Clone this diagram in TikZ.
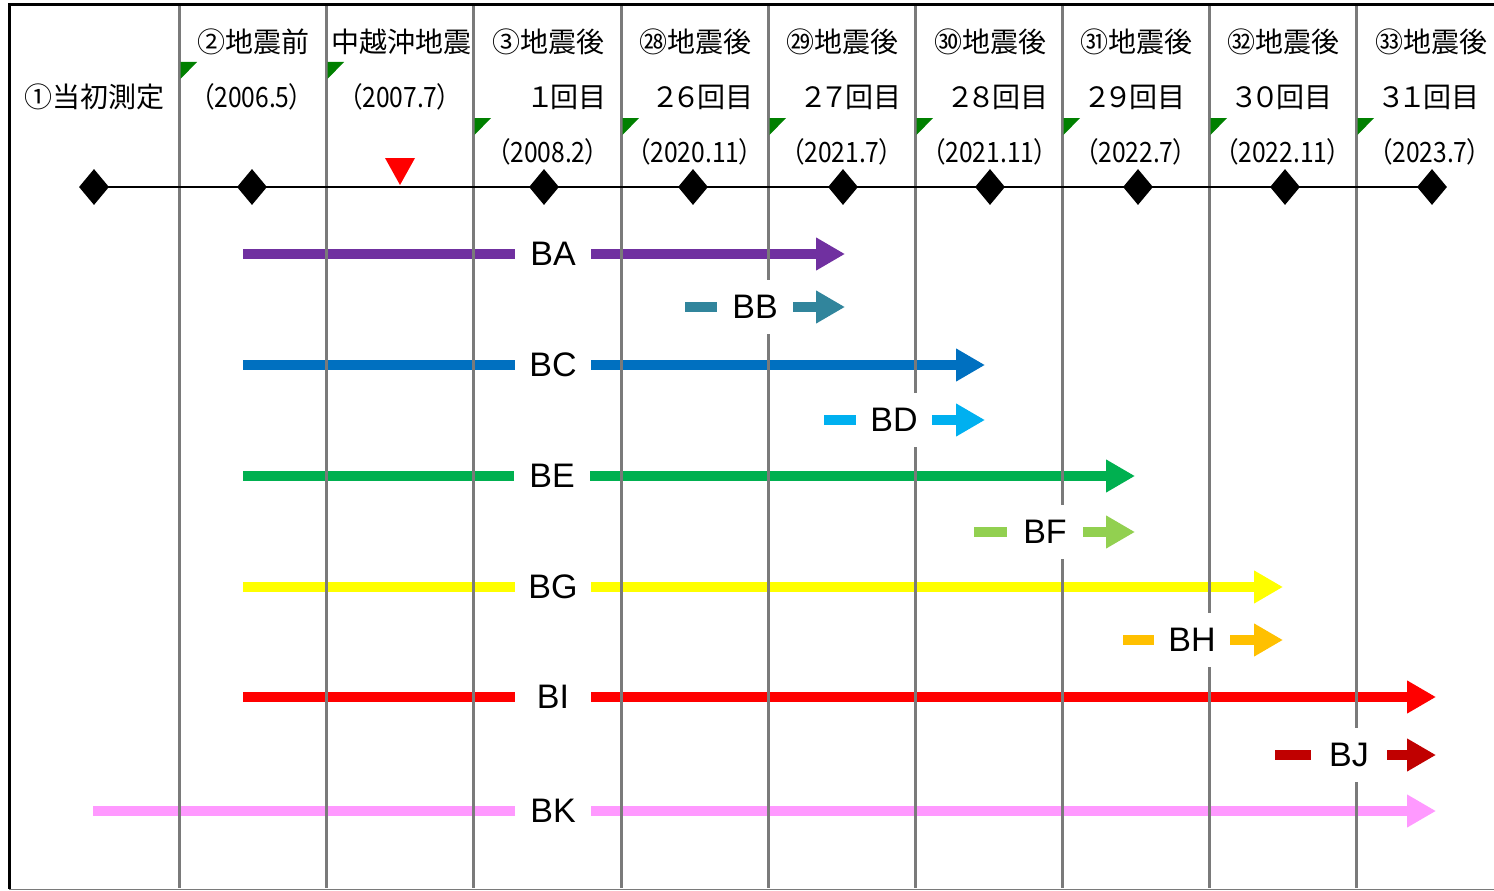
\documentclass[tikz,border=0pt]{standalone}
\usepackage{fontspec}
\setmainfont{Liberation Sans}
\newfontfamily\jp[RawFeature=+palt]{Noto Sans CJK JP}
\newfontfamily\jpn[RawFeature=+palt,FakeStretch=0.88]{Noto Sans CJK JP}
\usetikzlibrary{arrows.meta,shapes.geometric}
\definecolor{cA}{HTML}{7030A0}
\definecolor{cB}{HTML}{31859C}
\definecolor{cC}{HTML}{0070C0}
\definecolor{cD}{HTML}{00B0F0}
\definecolor{cE}{HTML}{00B050}
\definecolor{cF}{HTML}{92D050}
\definecolor{cG}{HTML}{FFFF00}
\definecolor{cH}{HTML}{FFC000}
\definecolor{cI}{HTML}{FF0000}
\definecolor{cJ}{HTML}{C00000}
\definecolor{cK}{HTML}{FF99FF}
\definecolor{gridgray}{HTML}{7A7A7A}
\definecolor{flaggreen}{HTML}{008000}
\pgfdeclarelayer{arrowlayer}
\pgfdeclarelayer{gridlayer}
\pgfsetlayers{arrowlayer,gridlayer,main}
\tikzset{
  hdr/.style={font=\jp\fontsize{28}{32}\selectfont, inner sep=0pt, anchor=center},
  dte/.style={font=\jpn\fontsize{28}{32}\selectfont, inner sep=0pt, anchor=center},
  lbl/.style={font=\fontsize{34}{40}\selectfont, fill=white, inner sep=0pt, minimum width=72pt, minimum height=54pt},
  bar/.style={line width=10pt},
  arr/.style={line width=10pt, -{Triangle[length=29pt,width=31pt]}},
  gridline/.style={draw=gridgray, line width=3pt},
  flag/.style={fill=flaggreen},
  dia/.style={diamond, fill=black, inner sep=0pt, minimum width=30pt, minimum height=36pt},
}
\begin{document}
\begin{tikzpicture}[x=1pt,y=-1pt]
\useasboundingbox (0,0) rectangle (1494,891);
% frame
\draw[line width=3pt] (8,5) -- (1494,5);
\draw[line width=3.5pt] (9.5,4) -- (9.5,889);
\draw[line width=1.5pt, gridgray] (9,889.5) -- (1494,889.5);
% grid lines
\begin{pgfonlayer}{gridlayer}
\foreach \x in {179,326,473,621,768,915,1062,1209,1356}
  \draw[gridline] (\x,6) -- (\x,888);
\end{pgfonlayer}
% green flags
\foreach \x in {179,326}
  \fill[flag] (\x+1.5,62) -- (\x+18,62) -- (\x+1.5,79) -- cycle;
\foreach \x in {473,621,768,915,1062,1209,1356}
  \fill[flag] (\x+1.5,118) -- (\x+18,118) -- (\x+1.5,135) -- cycle;
% header texts
\node[hdr] (h1a) at (253,42) {②地震前};
\node[hdr] (h2a) at (401,42) {中越沖地震};
\node[hdr] (h3a) at (548,42) {③地震後};
\node[hdr] (h4a) at (695,42) {㉘地震後};
\node[hdr] (h5a) at (842,42) {㉙地震後};
\node[hdr] (h6a) at (990,42) {㉚地震後};
\node[hdr] (h7a) at (1136,42) {㉛地震後};
\node[hdr] (h8a) at (1283,42) {㉜地震後};
\node[hdr] (h9a) at (1431,42) {㉝地震後};
\node[hdr] (h0b) at (94,97) {①当初測定};
\node[dte] (h1b) at (252,97) {（2006.5）};
\node[dte] (h2b) at (400,97) {（2007.7）};
\node[hdr] (h3b) at (568,97) {１回目};
\node[hdr] (h4b) at (704,97) {２６回目};
\node[hdr] (h5b) at (852,97) {２７回目};
\node[hdr] (h6b) at (999,97) {２８回目};
\node[hdr] (h7b) at (1136,97) {２９回目};
\node[hdr] (h8b) at (1283,97) {３０回目};
\node[hdr] (h9b) at (1430,97) {３１回目};
\node[dte] (h3c) at (548,152) {（2008.2）};
\node[dte] (h4c) at (695,152) {（2020.11）};
\node[dte] (h5c) at (842,152) {（2021.7）};
\node[dte] (h6c) at (990,152) {（2021.11）};
\node[dte] (h7c) at (1136,152) {（2022.7）};
\node[dte] (h8c) at (1283,152) {（2022.11）};
\node[dte] (h9c) at (1430,152) {（2023.7）};
% timeline
\foreach \i/\x in {0/94,1/252,2/544,3/693,4/843,5/990,6/1138,7/1285,8/1432}
  \coordinate (t\i) at (\x,187);
\draw[line width=2.5pt] (t0) -- (t8);
\foreach \i in {0,...,8}
  \node[dia] (d\i) at (t\i) {};
\fill[red] (385,158) -- (415,158) -- (400,185) -- cycle;
% measurement bars
\foreach \n/\c/\y/\lx/\s/\e in {
  BA/cA/254/553/243/845, BB/cB/307/755/685/845,
  BC/cC/365/553/243/985, BD/cD/420/894/824/985,
  BE/cE/476/552/243/1135, BF/cF/532/1045/974/1135,
  BG/cG/587/553/243/1283, BH/cH/640/1192/1123/1283,
  BI/cI/697/553/243/1436, BJ/cJ/755/1349/1275/1436,
  BK/cK/811/553/93/1436}{
  \node[lbl] (\n) at (\lx,\y) {\n};
  \coordinate (\n-s) at (\s,\y);
  \coordinate (\n-e) at (\e,\y);
  \begin{pgfonlayer}{arrowlayer}
  \draw[bar,\c] (\n-s) -- ([xshift=-2pt]\n.west);
  \draw[arr,\c] ([xshift=2pt]\n.east) -- (\n-e);
  \end{pgfonlayer}
}
\end{tikzpicture}
\end{document}
